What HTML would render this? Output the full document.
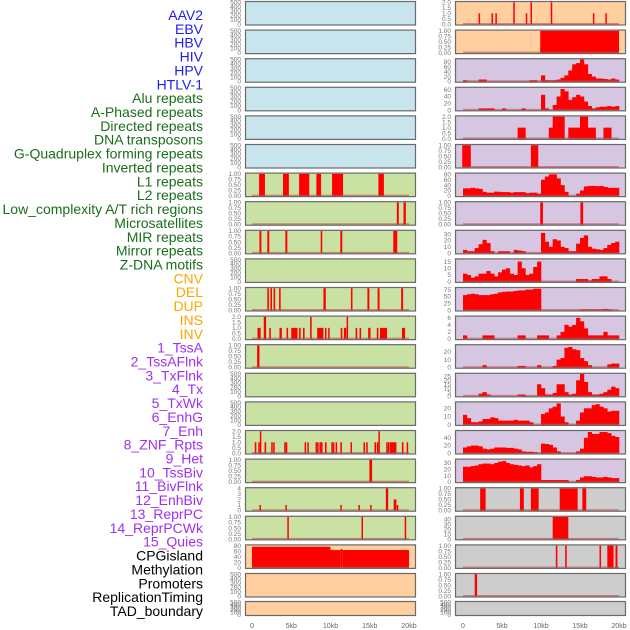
<!DOCTYPE html>
<html><head><meta charset="utf-8"><style>
body{margin:0;background:#fff;width:630px;height:630px;overflow:hidden}
svg{display:block;font-family:"Liberation Sans",sans-serif}
</style></head><body>
<svg id="chart" width="630" height="630" viewBox="0 0 630 630"></svg>
<script>
// ---- labels ----
const trackLabels = ["AAV2","EBV","HBV","HIV","HPV","HTLV-1","Alu repeats","A-Phased repeats","Directed repeats","DNA transposons","G-Quadruplex forming repeats","Inverted repeats","L1 repeats","L2 repeats","Low_complexity A/T rich regions","Microsatellites","MIR repeats","Mirror repeats","Z-DNA motifs","CNV","DEL","DUP","INS","INV","1_TssA","2_TssAFlnk","3_TxFlnk","4_Tx","5_TxWk","6_EnhG","7_Enh","8_ZNF_Rpts","9_Het","10_TssBiv","11_BivFlnk","12_EnhBiv","13_ReprPC","14_ReprPCWk","15_Quies","CPGisland","Methylation","Promoters","ReplicationTiming","TAD_boundary"];
const labelColors = ["#2020ee","#2020ee","#2020ee","#2020ee","#2020ee","#2020ee","#1a6e1a","#1a6e1a","#1a6e1a","#1a6e1a","#1a6e1a","#1a6e1a","#1a6e1a","#1a6e1a","#1a6e1a","#1a6e1a","#1a6e1a","#1a6e1a","#1a6e1a","#ffa500","#ffa500","#ffa500","#ffa500","#ffa500","#a030f0","#a030f0","#a030f0","#a030f0","#a030f0","#a030f0","#a030f0","#a030f0","#a030f0","#a030f0","#a030f0","#a030f0","#a030f0","#a030f0","#a030f0","#000","#000","#000","#000","#000"];
const xTickLabels = ["0","5kb","10kb","15kb","20kb"];
const xTickValues = [0,5,10,15,20];

// ---- segment data [startKb, endKb, value] ----
const seg_alu = [[0.9,1.65,1],[3.95,4.7,1],[6.0,7.3,1],[8.2,8.8,1],[10.2,11.6,1],[16.1,16.8,1]];
const seg_aphased = [[18.45,18.7,1],[19.3,19.6,1]];
const seg_directed = [[0.95,1.2,1],[1.95,2.2,1],[4.25,4.5,1],[8.75,8.95,1],[11.25,11.5,1],[18.0,18.5,1]];
const seg_gquad = [[1.95,2.15,1],[2.35,2.55,1],[2.75,2.95,1],[3.45,3.65,1],[9.1,9.4,1],[12.6,12.8,1],[14.7,14.95,1],[16.0,16.25,1],[19.0,19.25,1]];
const seg_inverted = [[0.7,1.1,1],[1.5,1.8,2],[2.2,2.4,1],[3.5,3.8,1],[4.4,4.6,1],[5.0,5.8,1],[6.0,6.2,1],[6.5,6.7,1],[7.4,7.6,2],[8.3,9.1,1],[9.3,9.45,1],[9.7,9.85,1],[11.3,11.5,1],[11.7,12.0,1],[12.05,12.2,2],[13.2,13.4,1],[13.7,13.9,1],[14.8,15.1,1],[15.9,16.1,1],[16.3,17.2,1],[19.1,19.5,1]];
const seg_l1 = [[0.65,0.95,1]];
const seg_microsat = [[0.35,0.55,1],[0.8,0.95,1],[1.0,1.15,2],[1.6,1.8,1],[2.45,2.6,1],[2.7,2.85,1],[4.1,4.25,1],[4.3,4.45,1],[6.7,6.85,1],[7.05,7.2,1],[8.1,8.25,1],[8.3,8.45,1],[8.6,8.75,1],[8.8,8.9,1],[9.3,9.5,1],[10.1,10.25,1],[10.3,10.45,1],[10.65,10.8,1],[11.25,11.45,1],[12.55,12.7,1],[14.2,14.35,1],[14.55,14.7,1],[15.6,15.8,1],[15.9,16.05,1],[16.1,16.25,2],[17.1,17.25,1],[17.3,17.45,1],[17.55,18.4,1],[19.1,19.3,1],[19.7,19.85,1]];
const seg_mir = [[14.95,15.3,1]];
const seg_mirror = [[0.95,1.1,1],[4.25,4.4,1],[11.25,11.4,1],[13.55,13.7,1],[15.05,15.2,1],[17.05,17.35,4],[18.05,18.4,2],[18.45,18.6,1]];
const seg_zdna = [[4.5,4.65,1],[13.95,14.1,1],[19.45,19.6,1]];
const seg_cnv = [[0,10,76],[10,11.3,64],[11.3,11.5,68],[11.5,20,64]];
const seg_ins = [[2.0,2.15,1],[3.65,3.8,1],[4.15,4.3,1],[6.45,6.6,2],[8.05,8.2,1],[8.65,8.8,2],[11.25,11.4,2],[16.65,16.8,1],[18.25,18.4,1]];
const seg_inv = [[9.9,20,1]];
const seg_tx = [[-0.1,1.0,1],[8.7,9.65,1]];
const seg_enhg = [[9.9,10.25,1],[15.05,15.4,1]];
const seg_cpg = [[2.2,2.9,1],[7.3,7.8,1],[8.7,9.7,1],[12.4,14.7,1],[15.3,15.8,1]];
const seg_meth = [[11.5,13.5,45]];
const seg_prom = [[11.9,12.1,1],[13.1,13.3,1],[17.5,17.7,1],[18.5,19.3,1],[19.55,19.8,1]];
const seg_rept = [[1.5,1.8,1]];

// ---- binned data (0.5kb bins, 0..20kb) ----
const bin_tssa = [5,0,0,0,8,8,0,0,0,0,0,0,0,0,0,0,0,5,5,0,25,5,5,5,8,15,25,45,70,75,90,70,30,20,12,12,10,8,12,8];
const bin_tssaflnk = [0,0,0,0,5,5,5,5,0,0,5,0,0,0,0,5,0,0,0,0,45,5,0,15,40,62,55,30,38,45,40,25,12,5,8,10,10,12,10,12];
const bin_txflnk = [0,0,0,0,0,0,0,0,0,0,0,0,0,0,1,1,0,0,0,0,0,0,1,2,2,2,0,1,1,1,2,2,1,1,0,0,1,1,0,0];
const bin_txwk = [28,28,30,28,26,15,12,12,16,15,14,14,12,14,14,14,10,12,12,8,60,72,80,80,65,40,15,0,0,8,20,35,37,37,36,37,33,30,30,30];
const bin_enh = [5,3,3,8,14,21,16,3,0,3,3,3,0,5,4,3,0,0,0,0,32,18,10,22,20,10,8,3,3,15,24,28,10,7,6,5,8,13,16,18];
const bin_znf = [6,5,3,4,6,6,8,6,4,7,9,10,6,5,15,10,5,6,11,15,0,0,0,0,0,0,0,0,0,2,2,2,1,2,2,4,4,2,0,0];
const bin_het = [55,58,60,58,55,55,55,58,60,65,67,68,68,70,72,72,75,75,78,78,0,0,0,0,0,0,0,0,0,0,3,3,3,3,3,3,5,3,0,0];
const bin_tssbiv = [1,0,0,0,0,1,1,1,0,0,0,0,0,0,1,1,0,0,0,1,1,1,0,0,1,2,4,3.5,4,6,5,3,1,1,1,1,2,1,1,1];
const bin_bivflnk = [0,0,0,0,0,3,0,0,0,0,0,0,0,0,2,2,0,0,0,3,0,0,0,2,10,12,25,26,23,22,12,8,3,0,0,0,0,4,5,5];
const bin_enhbiv = [0,0,0,0,3,5,2,0,0,0,0,0,0,0,2,2,0,0,0,15,10,2,2,4,15,15,5,2,3,20,28,18,5,2,2,3,5,8,12,10];
const bin_reprpc = [12,8,3,3,4,7,7,9,8,5,5,5,5,6,5,5,5,3,0,0,13,15,20,22,26,10,3,0,0,5,15,20,20,24,25,22,20,16,17,17];
const bin_reprpcwk = [15,18,20,20,18,12,10,12,15,15,15,14,14,12,10,5,4,4,3,0,25,24,22,15,5,0,0,0,0,5,12,40,55,50,50,55,55,52,45,42];
const bin_quies = [24,24,25,26,28,29,29,28,30,32,33,30,28,27,26,25,26,23,25,28,3,3,3,3,3,3,3,0,0,3,7,9,9,8,7,7,8,7,6,6];

// ---- tick labels ----
const ticks500 = ["0","100","200","300","400","500"];
const ticks1 = ["0.00","0.25","0.50","0.75","1.00"];
const ticks2 = ["0.0","0.5","1.0","1.5","2.0"];

// col, row, bg, kind, data, ymax, tick labels, tick values
const panels = [
 [0,0,"#c8e4ec",null,null,500,ticks500],
 [0,1,"#c8e4ec",null,null,500,ticks500],
 [0,2,"#c8e4ec",null,null,500,ticks500],
 [0,3,"#c8e4ec",null,null,500,ticks500],
 [0,4,"#c8e4ec",null,null,500,ticks500],
 [0,5,"#c8e4ec",null,null,500,ticks500],
 [0,6,"#c9e2a4","seg",seg_alu,1,ticks1],
 [0,7,"#c9e2a4","seg",seg_aphased,1,ticks1],
 [0,8,"#c9e2a4","seg",seg_directed,1,ticks1],
 [0,9,"#c9e2a4",null,null,500,ticks500],
 [0,10,"#c9e2a4","seg",seg_gquad,1,ticks1],
 [0,11,"#c9e2a4","seg",seg_inverted,2,ticks2],
 [0,12,"#c9e2a4","seg",seg_l1,1,ticks1],
 [0,13,"#c9e2a4",null,null,500,ticks500],
 [0,14,"#c9e2a4",null,null,500,ticks500],
 [0,15,"#c9e2a4","seg",seg_microsat,2,ticks2],
 [0,16,"#c9e2a4","seg",seg_mir,1,ticks1],
 [0,17,"#c9e2a4","seg",seg_mirror,4,["0","1","2","3","4"]],
 [0,18,"#c9e2a4","seg",seg_zdna,1,ticks1],
 [0,19,"#ffcf9f","seg",seg_cnv,80,["0","20","40","60","80"]],
 [0,20,"#ffcf9f",null,null,500,ticks500],
 [0,21,"#ffcf9f",null,null,500,ticks500],
 [1,0,"#ffcf9f","seg",seg_ins,2,ticks2],
 [1,1,"#ffcf9f","seg",seg_inv,1,ticks1],
 [1,2,"#d6c6e2","bin",bin_tssa,90,["0","20","40","60","80"]],
 [1,3,"#d6c6e2","bin",bin_tssaflnk,65,["0","20","40","60"]],
 [1,4,"#d6c6e2","bin",bin_txflnk,2,ticks2],
 [1,5,"#d6c6e2","seg",seg_tx,1,ticks1],
 [1,6,"#d6c6e2","bin",bin_txwk,82,["0","20","40","60","80"]],
 [1,7,"#d6c6e2","seg",seg_enhg,1,ticks1],
 [1,8,"#d6c6e2","bin",bin_enh,35,["0","10","20","30"]],
 [1,9,"#d6c6e2","bin",bin_znf,16.5,["0","5","10","15"]],
 [1,10,"#d6c6e2","bin",bin_het,80,["0","25","50","75"]],
 [1,11,"#d6c6e2","bin",bin_tssbiv,6.3,["0","2","4","6"]],
 [1,12,"#d6c6e2","bin",bin_bivflnk,28,["0","10","20"]],
 [1,13,"#d6c6e2","bin",bin_enhbiv,28,["0","5","10","15","20","25"]],
 [1,14,"#d6c6e2","bin",bin_reprpc,27,["0","10","20"]],
 [1,15,"#d6c6e2","bin",bin_reprpcwk,57,["0","20","40"]],
 [1,16,"#d6c6e2","bin",bin_quies,35,["0","10","20","30"]],
 [1,17,"#cdcdcd","seg",seg_cpg,1,ticks1],
 [1,18,"#cdcdcd","seg",seg_meth,45,["0","10","20","30","40"]],
 [1,19,"#cdcdcd","seg",seg_prom,1,ticks1],
 [1,20,"#cdcdcd","seg",seg_rept,1,ticks1],
 [1,21,"#cdcdcd",null,null,500,ticks500]
];

const NS = "http://www.w3.org/2000/svg";
const svg = document.getElementById("chart");
function mk(tag, attrs, parent){const e=document.createElementNS(NS,tag);for(const k in attrs)e.setAttribute(k,attrs[k]);(parent||svg).appendChild(e);return e;}

const colX = [245,455], colW = 171;
const colX0 = [252,463], colScale = [7.85,7.8];
function rowTop(r){return r===21?601:1+28.6*r;}
function rowH(r){return r===21?15:24.5;}
function xKb(c,kb){return colX0[c]+kb*colScale[c];}

// labels
trackLabels.forEach((t,i)=>{
  const el = mk("text",{x:203,y:20+13.86*i,"text-anchor":"end","font-size":"14",fill:labelColors[i]});
  el.textContent = t;
  
  
});

panels.forEach(p=>{
  const [c,r,bg,kind,data,ymax,tl] = p;
  const top=rowTop(r), h=rowH(r), x=colX[c];
  const g = mk("g",{});
  
  
  mk("rect",{x:x,y:top,width:colW,height:h,fill:bg},g);
  const pad=1.2, bot=top+h-pad, ih=h-2*pad;
  const yv = v=>bot - Math.min(v,ymax)/ymax*ih;
  // ticks
  tl.forEach(s=>{
    const v=parseFloat(s);
    const t=mk("text",{x:x-4,y:yv(v)+2.2,"text-anchor":"end","font-size":"6.5",fill:"#777"},g);
    t.textContent=s;
    
    
  });
  if(kind){
    if(kind==="seg"){
      data.forEach(d=>{
        const x1=xKb(c,d[0]), x2=xKb(c,d[1]);
        const b=mk("rect",{x:x1,y:yv(d[2]),width:Math.max(1.5,x2-x1),height:bot-yv(d[2]),fill:"#ff0000"},g);
        
        
      });
    } else {
      data.forEach((v,k)=>{
        if(v<=0) return;
        const x1=xKb(c,k*0.5), x2=xKb(c,k*0.5+0.5);
        const b=mk("rect",{x:x1,y:yv(v),width:x2-x1+0.3,height:bot-yv(v),fill:"#ff0000"},g);
        
        
      });
    }
    const bl=mk("line",{x1:xKb(c,0),x2:xKb(c,20),y1:bot-0.5,y2:bot-0.5,stroke:"rgba(200,60,60,0.55)","stroke-width":"1.5"},g);
    
    
  }
  mk("rect",{x:x+0.5,y:top+0.5,width:colW-1,height:h-1,fill:"none",stroke:"#6a6a6a","stroke-width":"1.2"},g);
});

// x axis
[0,1].forEach(c=>{
  xTickValues.forEach((v,i)=>{
    const t=mk("text",{x:xKb(c,v),y:628,"text-anchor":"middle","font-size":"7",fill:"#666"});
    t.textContent=xTickLabels[i];
    
    
  });
});
</script>
</body></html>
